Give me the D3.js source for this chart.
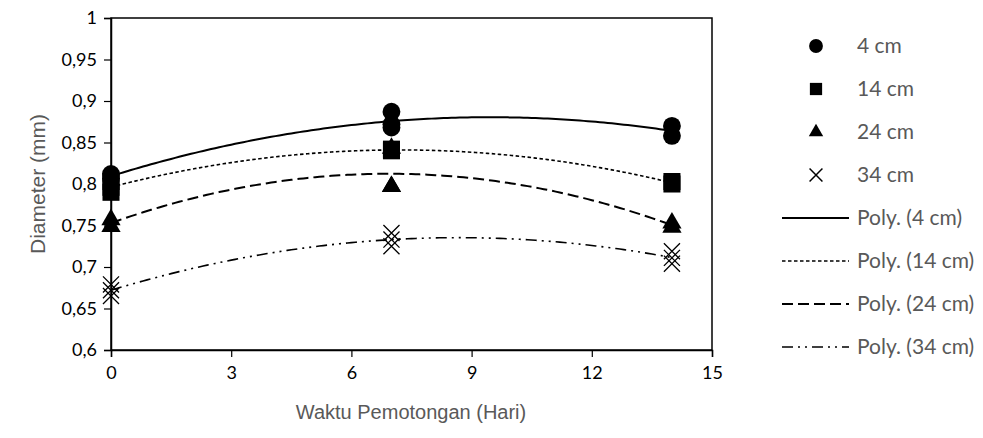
<!DOCTYPE html>
<html><head><meta charset="utf-8">
<script src="https://cdn.jsdelivr.net/npm/d3@7/dist/d3.min.js"></script>
<style>body{margin:0;background:#fff}</style>
</head><body><svg id="c" width="983" height="438"></svg>
<script>
const days = [0, 7, 14];
const seriesNames = ["4 cm", "14 cm", "24 cm", "34 cm"];
const s4 = [[0.807, 0.812], [0.887, 0.872, 0.868], [0.870, 0.858]];
const s14 = [[0.803, 0.796, 0.790], [0.842, 0.840], [0.803, 0.800]];
const s24 = [[0.757, 0.749], [0.797, 0.797, 0.843], [0.753, 0.748]];
const s34 = [[0.679, 0.672, 0.665], [0.741, 0.733, 0.725], [0.719, 0.711, 0.704]];
const xTicks = [0, 3, 6, 9, 12, 15];
const yTicks = [0.6, 0.65, 0.7, 0.75, 0.8, 0.85, 0.9, 0.95, 1];
const trendNames = ["Poly. (4 cm)", "Poly. (14 cm)", "Poly. (24 cm)", "Poly. (34 cm)"];

const allSeries = [s4, s14, s24, s34];
const markers = [d3.symbolCircle, d3.symbolSquare, d3.symbolTriangle, d3.symbolX];
const markerSize = [250, 290, 160, 170];
const dashes = [null, "3.5,2.5", "11,5", "11,5,2,5,2,5"];
const widths = [2, 1.6, 2, 1.6];

const svg = d3.select("#c");
const x = d3.scaleLinear().domain([0, 15]).range([111, 712]);
const y = d3.scaleLinear().domain([0.6, 1]).range([350, 18]);
const fmt = d => String(d).replace(".", ",");
const lato = "Lato, 'Open Sans', sans-serif";
const arial = "'Liberation Sans', Arial, sans-serif";

svg.append("rect").attr("x", 111).attr("y", 18).attr("width", 601).attr("height", 332)
  .attr("fill", "none").attr("stroke", "#000").attr("stroke-width", 1.5);

const ya = svg.append("g").attr("transform", "translate(111,0)")
  .call(d3.axisLeft(y).tickValues(yTicks).tickSize(7).tickPadding(7).tickFormat(fmt));
const xa = svg.append("g").attr("transform", "translate(0,350)")
  .call(d3.axisBottom(x).tickValues(xTicks).tickSize(7).tickPadding(9).tickFormat(d => d));
[ya, xa].forEach(g => {
  g.select(".domain").attr("stroke", "#000").attr("stroke-width", 1.5);
  g.selectAll(".tick line").attr("stroke", "#000").attr("stroke-width", 1.2);
  g.selectAll("text").attr("fill", "#000").attr("font-family", lato).attr("font-size", 18);
});

function fit(series) {
  const pts = [];
  series.forEach((vals, i) => vals.forEach(v => pts.push([days[i], v])));
  let S = [[0,0,0],[0,0,0],[0,0,0]], T = [0,0,0];
  pts.forEach(([xx, yy]) => {
    const p = [1, xx, xx*xx];
    for (let i = 0; i < 3; i++) { T[i] += p[i]*yy; for (let j = 0; j < 3; j++) S[i][j] += p[i]*p[j]; }
  });
  const A = S.map((r, i) => [...r, T[i]]);
  for (let i = 0; i < 3; i++) {
    for (let k = i+1; k < 3; k++) { const f = A[k][i]/A[i][i]; for (let j = i; j < 4; j++) A[k][j] -= f*A[i][j]; }
  }
  const c = [0,0,0];
  for (let i = 2; i >= 0; i--) { let s = A[i][3]; for (let j = i+1; j < 3; j++) s -= A[i][j]*c[j]; c[i] = s/A[i][i]; }
  return c;
}
const line = d3.line().x(d => x(d[0])).y(d => y(d[1]));
const xs = d3.range(0, 14.001, 0.1);

allSeries.forEach((s, k) => {
  const c = fit(s);
  const p = svg.append("path").datum(xs.map(t => [t, c[0] + c[1]*t + c[2]*t*t]))
    .attr("d", line).attr("fill", "none").attr("stroke", "#000").attr("stroke-width", widths[k]);
  if (dashes[k]) p.attr("stroke-dasharray", dashes[k]);
});

allSeries.forEach((s, k) => {
  s.forEach((vals, i) => vals.forEach(v => {
    const m = svg.append("path").attr("d", d3.symbol(markers[k], markerSize[k])())
      .attr("transform", `translate(${x(days[i])},${y(v)})`);
    if (k === 3) m.attr("fill", "none").attr("stroke", "#000").attr("stroke-width", 1.3);
    else m.attr("fill", "#000");
  }));
});

const lg = svg.append("g");
seriesNames.forEach((n, k) => {
  const yy = 46 + k * 43;
  const m = lg.append("path").attr("d", d3.symbol(markers[k], k === 3 ? 110 : (k === 2 ? 90 : 150))())
    .attr("transform", `translate(816,${yy})`);
  if (k === 3) m.attr("fill", "none").attr("stroke", "#000").attr("stroke-width", 1.5);
  else m.attr("fill", "#000");
  lg.append("text").attr("x", 857).attr("y", yy).attr("dy", "0.35em").text(n)
    .attr("font-family", lato).attr("font-size", 21).attr("fill", "#595959");
});
trendNames.forEach((n, k) => {
  const yy = 218 + k * 43;
  const l = lg.append("line").attr("x1", 782).attr("x2", 849).attr("y1", yy).attr("y2", yy)
    .attr("stroke", "#000").attr("stroke-width", widths[k]);
  if (dashes[k]) l.attr("stroke-dasharray", dashes[k]);
  lg.append("text").attr("x", 857).attr("y", yy).attr("dy", "0.35em").text(n)
    .attr("font-family", lato).attr("font-size", 21).attr("fill", "#595959");
});

svg.append("text").attr("transform", "translate(38,184) rotate(-90)").attr("text-anchor", "middle")
  .attr("dy", "0.35em").text("Diameter (mm)")
  .attr("font-family", arial).attr("font-size", 21).attr("fill", "#595959");
svg.append("text").attr("x", 411).attr("y", 412).attr("text-anchor", "middle").attr("dy", "0.35em")
  .text("Waktu Pemotongan (Hari)")
  .attr("font-family", arial).attr("font-size", 20).attr("fill", "#595959");
</script></body></html>
